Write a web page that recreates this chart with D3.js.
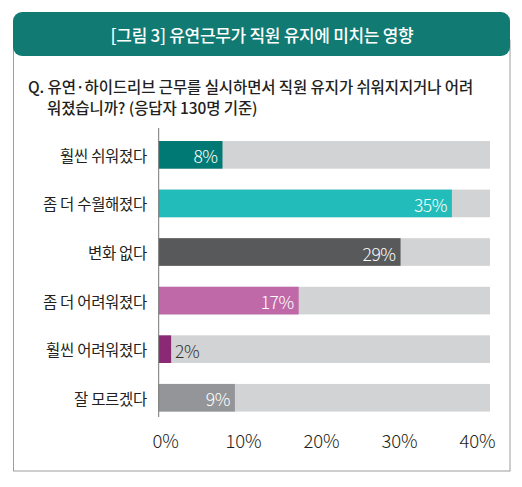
<!DOCTYPE html>
<html><head><meta charset="utf-8">
<script src="https://cdn.jsdelivr.net/npm/d3@7"></script>
<style>html,body{margin:0;padding:0;background:#fff;}svg{display:block;}</style>
</head><body>
<svg id="c" width="522" height="487"></svg>
<script>
const title = "[그림 3] 유연근무가 직원 유지에 미치는 영향";
const question = ["Q. 유연·하이드리브 근무를 실시하면서 직원 유지가 쉬워지지거나 어려", "워졌습니까? (응답자 130명 기준)"];
const categories = ["훨씬 쉬워졌다", "좀 더 수월해졌다", "변화 없다", "좀 더 어려워졌다", "훨씬 어려워졌다", "잘 모르겠다"];
const values = [7.7, 35.4, 29.2, 16.9, 1.5, 9.2];
const valueLabels = ["8%", "35%", "29%", "17%", "2%", "9%"];
const colors = ["#007874", "#22bdbb", "#58595b", "#c069a8", "#8b2a74", "#939598"];
const ticks = [0, 10, 20, 30, 40];
const tickLabels = ["0%", "10%", "20%", "30%", "40%"];
const maxValue = 40;

const svg = d3.select("#c");
const FONT = "'Noto Sans CJK KR','Noto Sans',sans-serif";

// frame
svg.append("rect").attr("x", 13.5).attr("y", 40).attr("width", 496.5).attr("height", 431)
  .attr("fill", "#fff").attr("stroke", "#9d9d9d").attr("stroke-width", 1);
// header
svg.append("rect").attr("x", 13).attr("y", 12).attr("width", 497).attr("height", 44)
  .attr("rx", 9).attr("fill", "#107a73");
svg.append("text").attr("x", 262).attr("y", 34).attr("text-anchor", "middle")
  .attr("dominant-baseline", "central").attr("fill", "#fff")
  .attr("font-family", FONT).attr("font-size", 17).attr("font-weight", 500)
  .attr("letter-spacing", -0.3).text(title);

// question
svg.append("text").attr("x", 28).attr("y", 86).attr("dominant-baseline", "central")
  .attr("fill", "#231f20").attr("font-family", FONT).attr("font-size", 15.5)
  .attr("font-weight", 500).attr("letter-spacing", -0.1).text(question[0]);
svg.append("text").attr("x", 47).attr("y", 107).attr("dominant-baseline", "central")
  .attr("fill", "#231f20").attr("font-family", FONT).attr("font-size", 15.5)
  .attr("font-weight", 500).attr("letter-spacing", -0.1).text(question[1]);

// scales
const x = d3.scaleLinear().domain([0, maxValue]).range([158.7, 490]);
const xAxisScale = d3.scaleLinear().domain([0, maxValue]).range([165, 477]);
const y = d3.scaleBand().domain(categories).range([131.3, 421.3]).paddingInner(0.431).paddingOuter(0.2);

const g = svg.append("g");
// background bars
g.selectAll(".bg").data(categories).join("rect")
  .attr("x", x(0)).attr("y", d => y(d)).attr("width", x(maxValue) - x(0))
  .attr("height", y.bandwidth()).attr("fill", "#d1d3d4");
// value bars
g.selectAll(".bar").data(values).join("rect")
  .attr("x", x(0)).attr("y", (d, i) => y(categories[i]))
  .attr("width", d => x(d) - x(0)).attr("height", y.bandwidth())
  .attr("fill", (d, i) => colors[i]);
// value labels
g.selectAll(".vl").data(values).join("text")
  .attr("x", d => (x(d) - x(0) > 40) ? x(d) - 5 : x(d) + 4)
  .attr("text-anchor", d => (x(d) - x(0) > 40) ? "end" : "start")
  .attr("y", (d, i) => y(categories[i]) + y.bandwidth() / 2 + 1)
  .attr("dominant-baseline", "central")
  .attr("fill", d => (x(d) - x(0) > 40) ? "#fff" : "#333")
  .attr("font-family", FONT).attr("font-size", 17.5).attr("font-weight", 300)
  .attr("letter-spacing", -0.5)
  .text((d, i) => valueLabels[i]);

// category labels
g.selectAll(".cl").data(categories).join("text")
  .attr("x", 147).attr("y", d => y(d) + y.bandwidth() / 2)
  .attr("text-anchor", "end").attr("dominant-baseline", "central")
  .attr("fill", "#231f20").attr("font-family", FONT).attr("font-size", 15.5)
  .attr("font-weight", 400).attr("letter-spacing", -0.3).text(d => d);

// axis line
svg.append("line").attr("x1", x(0)).attr("x2", x(0)).attr("y1", 128).attr("y2", 417)
  .attr("stroke", "#777").attr("stroke-width", 1);

// tick labels
const axis = d3.axisBottom(xAxisScale).tickValues(ticks).tickSize(0)
  .tickFormat((d, i) => tickLabels[i]);
const ag = svg.append("g").attr("transform", "translate(0,432)").call(axis);
ag.select(".domain").remove();
ag.selectAll("text").attr("font-family", FONT).attr("font-size", 18.5)
  .attr("font-weight", 300).attr("fill", "#231f20").attr("letter-spacing", -0.2);
</script>
</body></html>
